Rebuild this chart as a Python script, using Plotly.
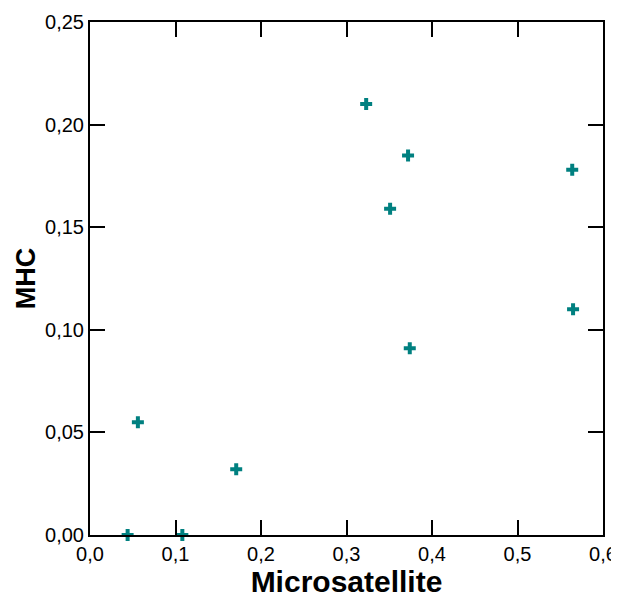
import plotly.graph_objects as go

microsatellite = [0.044, 0.108, 0.056, 0.171, 0.323, 0.372, 0.351, 0.374, 0.564, 0.565]
mhc = [0.000, 0.000, 0.055, 0.032, 0.210, 0.185, 0.159, 0.091, 0.178, 0.110]

fig = go.Figure(go.Scatter(
    x=microsatellite, y=mhc, mode="markers",
    marker=dict(symbol="cross", size=10, color="#008080", line=dict(width=0)),
    cliponaxis=False,
))

axis_common = dict(
    showline=True, linecolor="black", linewidth=2, mirror="ticks",
    ticks="inside", ticklen=15, tickwidth=2, tickcolor="black",
    showgrid=False, zeroline=False, automargin=False,
    tickfont=dict(family="Liberation Sans, Arial", size=20, color="black"),
)

# page has an 8px body margin, so the figure is sized/placed to compensate
fig.update_layout(
    width=611, height=590,
    margin=dict(l=82, r=16, t=14, b=63),
    paper_bgcolor="white", plot_bgcolor="white",
    separators=", ",
    showlegend=False,
    xaxis=dict(range=[0, 0.6], dtick=0.1, tickformat=".1f",
               title=dict(text="<b>Microsatellite</b>", standoff=7,
                          font=dict(family="Liberation Sans, Arial", size=30, color="black")),
               **axis_common),
    yaxis=dict(range=[0, 0.25], dtick=0.05, tickformat=".2f",
               title=dict(text="<b>MHC</b>", standoff=2,
                          font=dict(family="Liberation Sans, Arial", size=27, color="black")),
               **axis_common),
)

fig.write_html("out.html")
